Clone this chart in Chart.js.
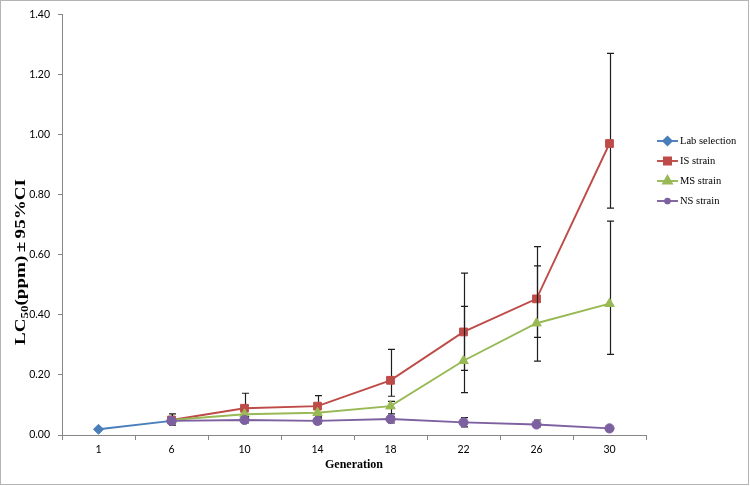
<!DOCTYPE html>
<html><head><meta charset="utf-8">
<script src="https://cdn.jsdelivr.net/npm/chart.js@4/dist/chart.umd.min.js"></script>
<style>html,body{margin:0;padding:0;background:#fff}canvas{display:block}</style>
</head><body>
<canvas id="c" width="750" height="486"></canvas>
<script>
const generations = ['1','6','10','14','18','22','26','30'];
const yTicks = [0, 0.2, 0.4, 0.6, 0.8, 1.0, 1.2, 1.4];

const labSelection = [0.019, 0.047, null, null, null, null, null, null];
const isStrain     = [null, 0.050, 0.089, 0.096, 0.182, 0.343, 0.453, 0.970];
const msStrain     = [null, 0.050, 0.069, 0.074, 0.096, 0.247, 0.372, 0.437];
const nsStrain     = [null, 0.047, 0.050, 0.047, 0.053, 0.042, 0.035, 0.022];

const isLow  = [null, null, 0.055, 0.060, 0.129, 0.215, 0.325, 0.755];
const isHigh = [null, null, 0.139, 0.131, 0.285, 0.539, 0.627, 1.270];
const msLow  = [null, null, null, null, 0.070, 0.141, 0.246, 0.268];
const msHigh = [null, null, null, null, 0.112, 0.428, 0.563, 0.712];
const nsLow  = [null, 0.033, 0.040, 0.038, 0.040, 0.027, 0.028, null];
const nsHigh = [null, 0.070, 0.060, 0.058, 0.062, 0.058, 0.050, null];

const seriesNames = ['Lab selection', 'IS strain', 'MS strain', 'NS strain'];
const colors = ['#4a7ebb', '#be4b48', '#98b954', '#7d60a0'];

Chart.defaults.font.family = 'Lato';

const errorBars = {
  id: 'errorBars',
  beforeDatasetDraw(chart, args) {
    const ds = chart.data.datasets[args.index];
    if (!ds.errLow) return;
    const ctx = chart.ctx, xs = chart.scales.x, ys = chart.scales.y;
    ctx.save();
    ctx.strokeStyle = '#1e1e1e';
    ctx.lineWidth = 1.2;
    ds.errLow.forEach((lo, i) => {
      const hi = ds.errHigh[i];
      if (lo == null || hi == null) return;
      const px = Math.round(xs.getPixelForValue(i)) + 0.5;
      const y1 = ys.getPixelForValue(lo), y2 = ys.getPixelForValue(hi);
      ctx.beginPath();
      ctx.moveTo(px, y1); ctx.lineTo(px, y2);
      ctx.moveTo(px - 3.5, y1); ctx.lineTo(px + 3.5, y1);
      ctx.moveTo(px - 3.5, y2); ctx.lineTo(px + 3.5, y2);
      ctx.stroke();
    });
    ctx.restore();
  }
};

const extras = {
  id: 'extras',
  afterDraw(chart) {
    const ctx = chart.ctx;
    ctx.save();
    // outer border
    ctx.strokeStyle = '#b4b4b4';
    ctx.lineWidth = 1;
    ctx.strokeRect(0.5, 0.5, 748, 484);

    // y-axis title with subscript
    ctx.translate(20.5, 262);
    ctx.rotate(-Math.PI / 2);
    ctx.fillStyle = '#000';
    ctx.textBaseline = 'alphabetic';
    const big = 'bold 14px "Liberation Serif"';
    const small = 'bold 9.5px "Liberation Serif"';
    const parts = [['LC', big, 0], ['50', small, 2.5], ['(ppm)', big, 0], ['\u00b1', big, 0], ['95%CI', big, 0]];
    const gap = 2.5;
    let total = 2 * gap;
    parts.forEach(p => { ctx.font = p[1]; total += ctx.measureText(p[0]).width; });
    const target = 166;
    ctx.scale(target / total, 1);
    let xx = -total / 2;
    parts.forEach((p, k) => {
      if (k === 3) xx += gap;
      ctx.font = p[1];
      ctx.fillText(p[0], xx, 4.5 + p[2]);
      xx += ctx.measureText(p[0]).width;
      if (k === 3) xx += gap;
    });
    ctx.restore();

    // legend
    ctx.save();
    chart.data.datasets.forEach((ds, i) => {
      const y = 141 + i * 20;
      ctx.strokeStyle = ds.borderColor;
      ctx.lineWidth = 1.9;
      ctx.beginPath(); ctx.moveTo(657, y); ctx.lineTo(678, y); ctx.stroke();
      ctx.fillStyle = ds.pointBackgroundColor;
      ctx.strokeStyle = ds.pointBorderColor;
      Chart.helpers.drawPoint(ctx, {pointStyle: ds.pointStyle, radius: ds.legendRadius, borderWidth: 1, rotation: 0}, 667.5, y);
      ctx.fillStyle = '#000';
      ctx.font = '10.5px "Liberation Serif"';
      ctx.textBaseline = 'middle';
      ctx.textAlign = 'left';
      ctx.fillText(ds.label, 680, y + 0.5);
    });
    ctx.restore();
  }
};

function mk(i, data, style, radius, legendRadius, order, lo, hi) {
  return {
    label: seriesNames[i], data,
    borderColor: colors[i], backgroundColor: colors[i],
    pointBackgroundColor: colors[i], pointBorderColor: colors[i],
    borderWidth: 1.9, pointStyle: style, pointRadius: radius, pointBorderWidth: 1,
    pointHoverRadius: radius, legendRadius, order,
    errLow: lo, errHigh: hi, tension: 0
  };
}

new Chart(document.getElementById('c'), {
  type: 'line',
  data: {
    labels: generations,
    datasets: [
      mk(0, labSelection, 'rectRot', 5, 4.2, 4, null, null),
      mk(1, isStrain, 'rect', 5.5, 5, 3, isLow, isHigh),
      mk(2, msStrain, 'triangle', 5.5, 5, 2, msLow, msHigh),
      mk(3, nsStrain, 'circle', 4.6, 2.4, 1, nsLow, nsHigh)
    ]
  },
  options: {
    responsive: false,
    animation: false,
    events: [],
    layout: { padding: { left: 0, right: 104, top: 12, bottom: 0 } },
    plugins: { legend: { display: false }, tooltip: { enabled: false } },
    scales: {
      x: {
        offset: true,
        grid: { display: true, offset: true, drawOnChartArea: false, drawTicks: true, tickLength: 5, color: '#868686' },
        border: { display: true, color: '#868686', width: 1 },
        ticks: { color: '#000', font: { size: 10.5 }, padding: 3, maxRotation: 0 },
        title: { display: true, text: 'Generation', color: '#000', font: { family: 'Liberation Serif', size: 12, weight: 'bold' }, padding: { top: 0, bottom: 14 } },
        afterFit(s) { s.height = 51; }
      },
      y: {
        min: 0, max: 1.4,
        afterBuildTicks(s) { s.ticks = yTicks.map(v => ({ value: v })); },
        grid: { display: true, drawOnChartArea: false, drawTicks: true, tickLength: 4, color: '#868686' },
        border: { display: true, color: '#868686', width: 1 },
        ticks: { color: '#000', font: { size: 10.5 }, padding: 8, callback: v => Number(v).toFixed(2) },
        afterFit(s) { s.width = 62; }
      }
    }
  },
  plugins: [errorBars, extras]
});
</script>
</body></html>
